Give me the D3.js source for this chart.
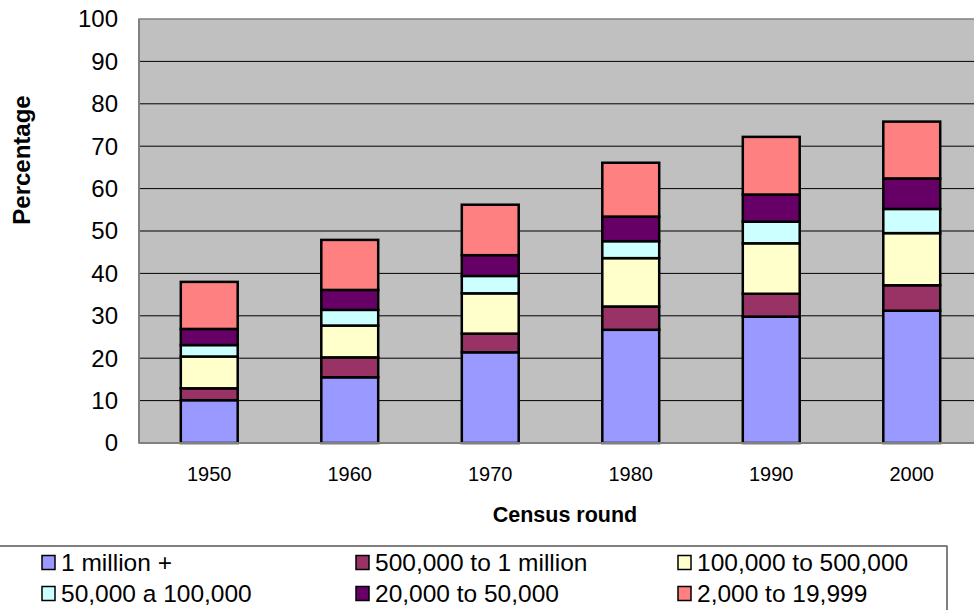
<!DOCTYPE html>
<html>
<head>
<meta charset="utf-8">
<title>Census round</title>
<script src="https://d3js.org/d3.v7.min.js"></script>
<style>
  body { margin: 0; background: #fff; }
  text { font-family: "Liberation Sans", Arial, sans-serif; }
</style>
</head>
<body>
<script>
// census rounds
var years = ["1950", "1960", "1970", "1980", "1990", "2000"];
var seriesNames = ["1 million +", "500,000 to 1 million", "100,000 to 500,000",
                   "50,000 a 100,000", "20,000 to 50,000", "2,000 to 19,999"];
var colors = ["#9999FF", "#993366", "#FFFFCC", "#CCFFFF", "#660066", "#FF8080"];

// percentage per size class, one array per series
var million     = [10.1, 15.5, 21.4, 26.7, 29.8, 31.2];
var halfMillion = [2.8, 4.7, 4.4, 5.5, 5.4, 6.0];
var hundredK    = [7.5, 7.5, 9.5, 11.4, 11.9, 12.3];
var fiftyK      = [2.7, 3.7, 4.1, 4.0, 5.1, 5.7];
var twentyK     = [3.8, 4.7, 4.9, 5.8, 6.4, 7.2];
var twoK        = [11.1, 11.8, 11.9, 12.7, 13.6, 13.4];
var yTicks = [0, 10, 20, 30, 40, 50, 60, 70, 80, 90, 100];

var seriesVals = [million, halfMillion, hundredK, fiftyK, twentyK, twoK];
var rows = years.map(function(yr, i) {
  var r = {year: yr};
  seriesNames.forEach(function(s, j) { r[s] = seriesVals[j][i]; });
  return r;
});

var svg = d3.select("body").append("svg")
  .attr("width", 974).attr("height", 610);

var plotL = 139, plotT = 19, plotB = 443, plotR = 982;

var x = d3.scaleBand().domain(years).range([plotL, plotR]).paddingInner(0.595).paddingOuter(0.2975);
var y = d3.scaleLinear().domain([0, 100]).range([plotB, plotT]);

// plot background
svg.append("rect")
  .attr("x", plotL).attr("y", plotT)
  .attr("width", plotR - plotL).attr("height", plotB - plotT)
  .attr("fill", "#C0C0C0").attr("stroke", "#808080").attr("stroke-width", 1.5);

// gridlines
svg.append("g").selectAll("line")
  .data(yTicks.filter(function(d) { return d > 0 && d < 100; }))
  .enter().append("line")
  .attr("x1", plotL).attr("x2", plotR)
  .attr("y1", function(d) { return y(d); }).attr("y2", function(d) { return y(d); })
  .attr("stroke", "#000").attr("stroke-width", 1);

// stacked bars
var stack = d3.stack().keys(seriesNames);
var layers = stack(rows);

svg.append("g").selectAll("g")
  .data(layers)
  .enter().append("g")
  .attr("fill", function(d, i) { return colors[i]; })
  .selectAll("rect")
  .data(function(d) { return d; })
  .enter().append("rect")
  .attr("x", function(d) { return x(d.data.year); })
  .attr("width", x.bandwidth())
  .attr("y", function(d) { return y(d[1]); })
  .attr("height", function(d) { return y(d[0]) - y(d[1]); })
  .attr("stroke", "#000").attr("stroke-width", 2.5);

// axis lines
svg.append("line").attr("x1", plotL).attr("x2", plotL).attr("y1", plotT).attr("y2", plotB)
  .attr("stroke", "#808080").attr("stroke-width", 2);
svg.append("line").attr("x1", plotL).attr("x2", plotR).attr("y1", plotB).attr("y2", plotB)
  .attr("stroke", "#808080").attr("stroke-width", 2);

// y tick labels
svg.append("g").selectAll("text")
  .data(yTicks).enter().append("text")
  .attr("x", 118).attr("y", function(d) { return y(d); })
  .attr("dy", "0.35em").attr("text-anchor", "end")
  .style("font-size", "24px")
  .text(function(d) { return d; });

// x tick labels
svg.append("g").selectAll("text")
  .data(years).enter().append("text")
  .attr("x", function(d) { return x(d) + x.bandwidth() / 2; })
  .attr("y", 474).attr("dy", "0.35em").attr("text-anchor", "middle")
  .style("font-size", "20px")
  .text(function(d) { return d; });

// axis titles
svg.append("text")
  .attr("x", 565).attr("y", 514).attr("dy", "0.35em")
  .attr("text-anchor", "middle")
  .style("font-size", "21.5px").style("font-weight", "bold")
  .text("Census round");

svg.append("text")
  .attr("transform", "translate(22,160) rotate(-90)")
  .attr("dy", "0.35em").attr("text-anchor", "middle")
  .style("font-size", "24px").style("font-weight", "bold")
  .text("Percentage");

// legend
var legend = svg.append("g");
legend.append("rect")
  .attr("x", -2).attr("y", 546).attr("width", 949).attr("height", 70)
  .attr("fill", "#fff").attr("stroke", "#000").attr("stroke-width", 1);
legend.append("line").attr("x1", 947).attr("x2", 947).attr("y1", 546).attr("y2", 610)
  .attr("stroke", "#808080").attr("stroke-width", 1.5);

var colX = [42, 356, 678];
var rowY = [562.5, 593.5];
var items = legend.selectAll("g.item")
  .data(seriesNames).enter().append("g")
  .attr("class", "item")
  .attr("transform", function(d, i) {
    return "translate(" + colX[i % 3] + "," + rowY[Math.floor(i / 3)] + ")";
  });
items.append("rect")
  .attr("x", 0).attr("y", -7).attr("width", 13).attr("height", 14)
  .attr("fill", function(d, i) { return colors[i]; })
  .attr("stroke", "#000").attr("stroke-width", 1.5);
items.append("text")
  .attr("x", 19).attr("y", 0).attr("dy", "0.35em")
  .style("font-size", "24.5px")
  .text(function(d) { return d; });
</script>
</body>
</html>
